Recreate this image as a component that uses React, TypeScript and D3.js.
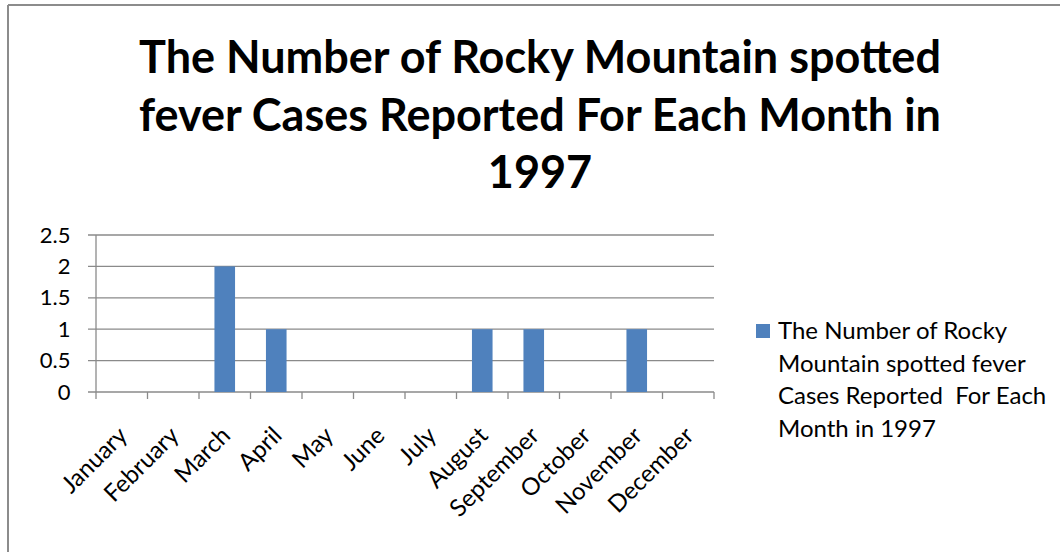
import React from "react";
import * as d3 from "d3";

const months = ["January","February","March","April","May","June","July","August","September","October","November","December"];
const cases = [0,0,2,1,0,0,0,1,1,0,1,0];
const yTicks = [0,0.5,1,1.5,2,2.5];
const titleLines = ["The Number of Rocky Mountain spotted","fever Cases Reported For Each Month in","1997"];
const legendLines = ["The Number of Rocky","Mountain spotted fever","Cases Reported  For Each","Month in 1997"];

const W = 1060, H = 552;
const FONT = "Lato, 'Open Sans', sans-serif";

export default function App() {
  const x = d3.scaleBand<string>().domain(months).range([96, 714]).paddingInner(0).paddingOuter(0);
  const y = d3.scaleLinear().domain([0, 2.5]).range([392, 235]);
  const bw = x.bandwidth() * 0.4;
  const axisColor = "#8a8a8a";
  return (
    <svg width={W} height={H} style={{ position: "absolute", left: 0, top: 0, background: "#fff" }} fontFamily={FONT}>
      <rect x={0} y={0} width={W} height={H} fill="#fff" />
      <line x1={8} y1={5} x2={W} y2={5} stroke="#8c8c8c" strokeWidth={2} />
      <line x1={8} y1={5} x2={8} y2={H} stroke="#8c8c8c" strokeWidth={2} />
      {titleLines.map((t, i) => (
        <text key={i} x={540} y={73 + i * 57.5} textAnchor="middle" fontSize={45} fontWeight="bold" fill="#000">{t}</text>
      ))}
      {yTicks.map((v) => (
        <g key={v}>
          <line x1={88} x2={714} y1={y(v)} y2={y(v)} stroke={axisColor} strokeWidth={1.3} />
          <text x={70.5} y={y(v) + 7.5} textAnchor="end" fontSize={22} fill="#000">{v}</text>
        </g>
      ))}
      <line x1={96} x2={96} y1={y(2.5)} y2={y(0)} stroke={axisColor} strokeWidth={1.3} />
      {d3.range(13).map((i) => {
        const xx = 96 + i * x.step();
        return <line key={i} x1={xx} x2={xx} y1={392} y2={399} stroke={axisColor} strokeWidth={1.3} />;
      })}
      {months.map((m, i) => (
        <rect key={m} x={(x(m) as number) + (x.bandwidth() - bw) / 2} y={y(cases[i])} width={bw} height={y(0) - y(cases[i])} fill="#4F81BD" />
      ))}
      {months.map((m) => {
        const cx = (x(m) as number) + x.bandwidth() / 2 + 7;
        const cy = 437;
        return (
          <text key={m} x={cx} y={cy} textAnchor="end" fontSize={24} fill="#000" transform={`rotate(-45 ${cx} ${cy})`}>{m}</text>
        );
      })}
      <rect x={756} y={324} width={14} height={14} fill="#4F81BD" />
      {legendLines.map((t, i) => (
        <text key={i} x={778} y={339 + i * 32.5} fontSize={24} fill="#000" style={{ whiteSpace: "pre" }}>{t}</text>
      ))}
    </svg>
  );
}
